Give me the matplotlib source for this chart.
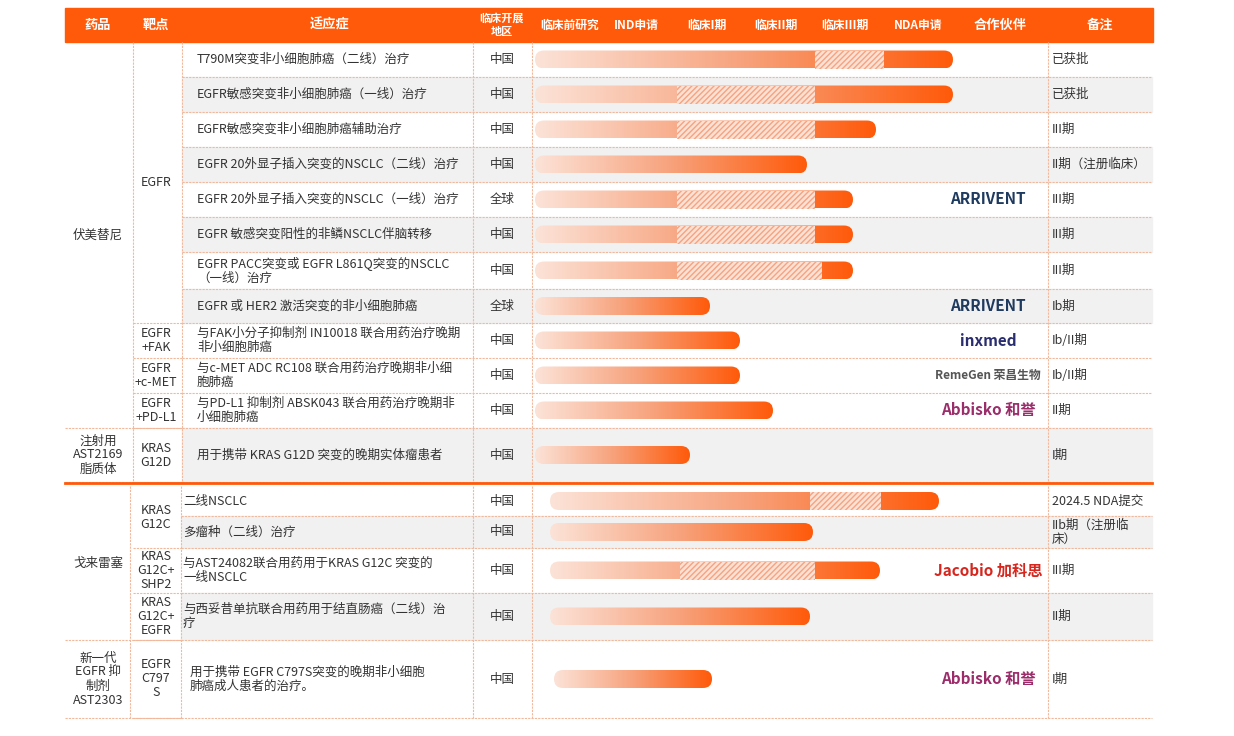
import numpy as np
import matplotlib.pyplot as plt
from matplotlib.patches import FancyBboxPatch, Rectangle

plt.rcParams['font.family'] = ['Noto Sans CJK SC', 'DejaVu Sans']

# ---- data ----
header = ['药品', '靶点', '适应症', '临床开展\n地区', '临床前研究', 'IND申请', '临床I期',
          '临床II期', '临床III期', 'NDA申请', '合作伙伴', '备注']
header_x = [98, 156, 330, 502, 570, 636, 707, 776, 845, 918, 1000, 1100]

indications = ['T790M突变非小细胞肺癌（二线）治疗', 'EGFR敏感突变非小细胞肺癌（一线）治疗',
               'EGFR敏感突变非小细胞肺癌辅助治疗', 'EGFR 20外显子插入突变的NSCLC（二线）治疗',
               'EGFR 20外显子插入突变的NSCLC（一线）治疗', 'EGFR 敏感突变阳性的非鳞NSCLC伴脑转移',
               'EGFR PACC突变或 EGFR L861Q突变的NSCLC\n（一线）治疗', 'EGFR 或 HER2 激活突变的非小细胞肺癌',
               '与FAK小分子抑制剂 IN10018 联合用药治疗晚期\n非小细胞肺癌',
               '与c-MET ADC RC108 联合用药治疗晚期非小细\n胞肺癌',
               '与PD-L1 抑制剂 ABSK043 联合用药治疗晚期非\n小细胞肺癌',
               '用于携带 KRAS G12D 突变的晚期实体瘤患者',
               '二线NSCLC', '多瘤种（二线）治疗',
               '与AST24082联合用药用于KRAS G12C 突变的\n一线NSCLC',
               '与西妥昔单抗联合用药用于结直肠癌（二线）治\n疗',
               '用于携带 EGFR C797S突变的晚期非小细胞\n肺癌成人患者的治疗。']
regions = ['中国', '中国', '中国', '中国', '全球', '中国', '中国', '全球', '中国', '中国', '中国', '中国',
           '中国', '中国', '中国', '中国', '中国']
notes = ['已获批', '已获批', 'III期', 'II期（注册临床）', 'III期', 'III期', 'III期', 'Ib期', 'Ib/II期',
         'Ib/II期', 'II期', 'I期', '2024.5 NDA提交', 'IIb期（注册临\n床）', 'III期', 'II期', 'I期']
partners = {4: ('ARRIVENT', '#1F3A5F'), 7: ('ARRIVENT', '#1F3A5F'), 8: ('inxmed', '#2B2E6E'),
            9: ('RemeGen 荣昌生物', '#555555'), 10: ('Abbisko 和誉', '#9B2D6B'),
            14: ('Jacobio 加科思', '#D7261E'), 16: ('Abbisko 和誉', '#9B2D6B')}

# bar start, bar end, hatched segment (start, end) (x pixels)
bar_start = [535] * 12 + [550, 550, 550, 550, 554]
bar_end = [953, 953, 876, 807, 853, 853, 853, 710, 740, 740, 773, 690, 939, 813, 880, 810, 712]
hatch_seg = [(815, 884), (677, 815), (677, 815), None, (677, 815), (677, 815), (677, 822),
             None, None, None, None, None, (810, 881), None, (680, 815), None, None]

row_edges = [42, 77, 112, 147, 182, 217, 252, 289, 323, 358, 393, 428, 482,
             486, 516, 548, 593, 640, 718]
shaded = [1, 3, 5, 7, 11, 13, 15]

drugs = [('伏美替尼', 0, 11, 98), ('注射用\nAST2169\n脂质体', 11, 12, 98),
         ('戈来雷塞', 12, 16, 98), ('新一代\nEGFR 抑\n制剂\nAST2303', 16, 17, 98)]
targets = [('EGFR', 0, 8), ('EGFR\n+FAK', 8, 9), ('EGFR\n+c-MET', 9, 10), ('EGFR\n+PD-L1', 10, 11),
           ('KRAS\nG12D', 11, 12), ('KRAS\nG12C', 12, 14), ('KRAS\nG12C+\nSHP2', 14, 15),
           ('KRAS\nG12C+\nEGFR', 15, 16), ('EGFR\nC797\nS', 16, 17)]

ORANGE = '#FF5A0A'
LINE = '#F2B89C'

fig = plt.figure(figsize=(12.34, 7.36), dpi=100)
ax = fig.add_axes([0, 0, 1, 1])
ax.set_xlim(0, 1234)
ax.set_ylim(736, 0)
ax.axis('off')


def row_span(i):
    if i < 12:
        return row_edges[i], row_edges[i + 1]
    return row_edges[i + 1], row_edges[i + 2]


# header
ax.add_patch(Rectangle((65, 8), 1088, 34, color=ORANGE, zorder=1))
for t, x in zip(header, header_x):
    fs = 8 if '\n' in t else (9.5 if x < 540 or x > 960 else 8.5)
    ax.text(x, 25, t, color='white', ha='center', va='center', fontsize=fs,
            fontweight='bold', linespacing=1.0)

# rows
for i in range(17):
    y0, y1 = row_span(i)
    yc = (y0 + y1) / 2
    tx = 182 if i < 12 else 181
    if i in shaded:
        ax.add_patch(Rectangle((tx, y0), 1152 - tx, y1 - y0, color='#F1F1F1', zorder=0))
    ax.plot([tx, 1152], [y1, y1], color=LINE, lw=0.8, ls=(0, (2, 1)), zorder=1)
    ind_x = 197 if i < 12 else 183
    if i == 16:
        ind_x = 190
    ax.text(ind_x, yc, indications[i], ha='left', va='center', fontsize=9, color='#333333',
            linespacing=1.1, zorder=3)
    ax.text(502, yc, regions[i], ha='center', va='center', fontsize=9, color='#333333', zorder=3)
    ax.text(1052, yc, notes[i], ha='left', va='center', fontsize=9, color='#333333',
            linespacing=1.1, zorder=3)

    # gradient bar
    x0, x1 = bar_start[i], bar_end[i]
    h = 18
    shape = FancyBboxPatch((x0 + h / 2, yc - h / 2), x1 - x0 - h, h,
                           boxstyle='round,pad=0,rounding_size=9', mutation_aspect=1,
                           facecolor='none', edgecolor='none', zorder=2)
    shape = FancyBboxPatch((x0, yc - h / 2), x1 - x0, h,
                           boxstyle='round,pad=0,rounding_size=9',
                           facecolor='none', edgecolor='none', zorder=2)
    ax.add_patch(shape)
    grad = np.linspace(0, 1, 256)[None, :]
    from matplotlib.colors import LinearSegmentedColormap
    cmap = LinearSegmentedColormap.from_list('g', ['#FCE3D8', '#F7A27C', ORANGE])
    im = ax.imshow(grad, cmap=cmap, extent=(x0, x1, yc + h / 2, yc - h / 2),
                   aspect='auto', zorder=2)
    im.set_clip_path(shape)
    if hatch_seg[i]:
        hs, he = hatch_seg[i]
        r = Rectangle((hs, yc - h / 2), he - hs, h, facecolor='#FCE1D4',
                      edgecolor='#F5A380', hatch='//////', lw=0, zorder=2.5)
        ax.add_patch(r)
    if i in partners:
        name, c = partners[i]
        style = 'italic' if 'Abbisko' in name else 'normal'
        ax.text(988, yc, name, ha='center', va='center', fontsize=11 if i != 9 else 8.5,
                color=c, fontweight='bold', fontstyle=style, zorder=3)

# merged cells: drugs and targets
for name, a, b, x in drugs:
    y0, _ = row_span(a)
    _, y1 = row_span(b - 1)
    ax.text(x, (y0 + y1) / 2, name, ha='center', va='center', fontsize=9, color='#333333',
            linespacing=1.1)
    ax.plot([65, 182], [y1, y1], color=LINE, lw=0.8, ls=(0, (2, 1)))
for name, a, b in targets:
    y0, _ = row_span(a)
    _, y1 = row_span(b - 1)
    ax.text(156, (y0 + y1) / 2, name, ha='center', va='center', fontsize=9, color='#333333',
            linespacing=1.1)
    ax.plot([133, 182], [y1, y1], color=LINE, lw=0.8, ls=(0, (2, 1)))

# column separators
for x in [133, 182, 473, 532, 1048]:
    ax.plot([x, x], [42, 482], color=LINE, lw=0.8, ls=(0, (2, 1)))
for x in [130, 181, 473, 532, 1048]:
    ax.plot([x, x], [486, 718], color=LINE, lw=0.8, ls=(0, (2, 1)))
ax.plot([65, 1152], [483, 483], color=ORANGE, lw=2)

fig.savefig('out.png', dpi=100)
